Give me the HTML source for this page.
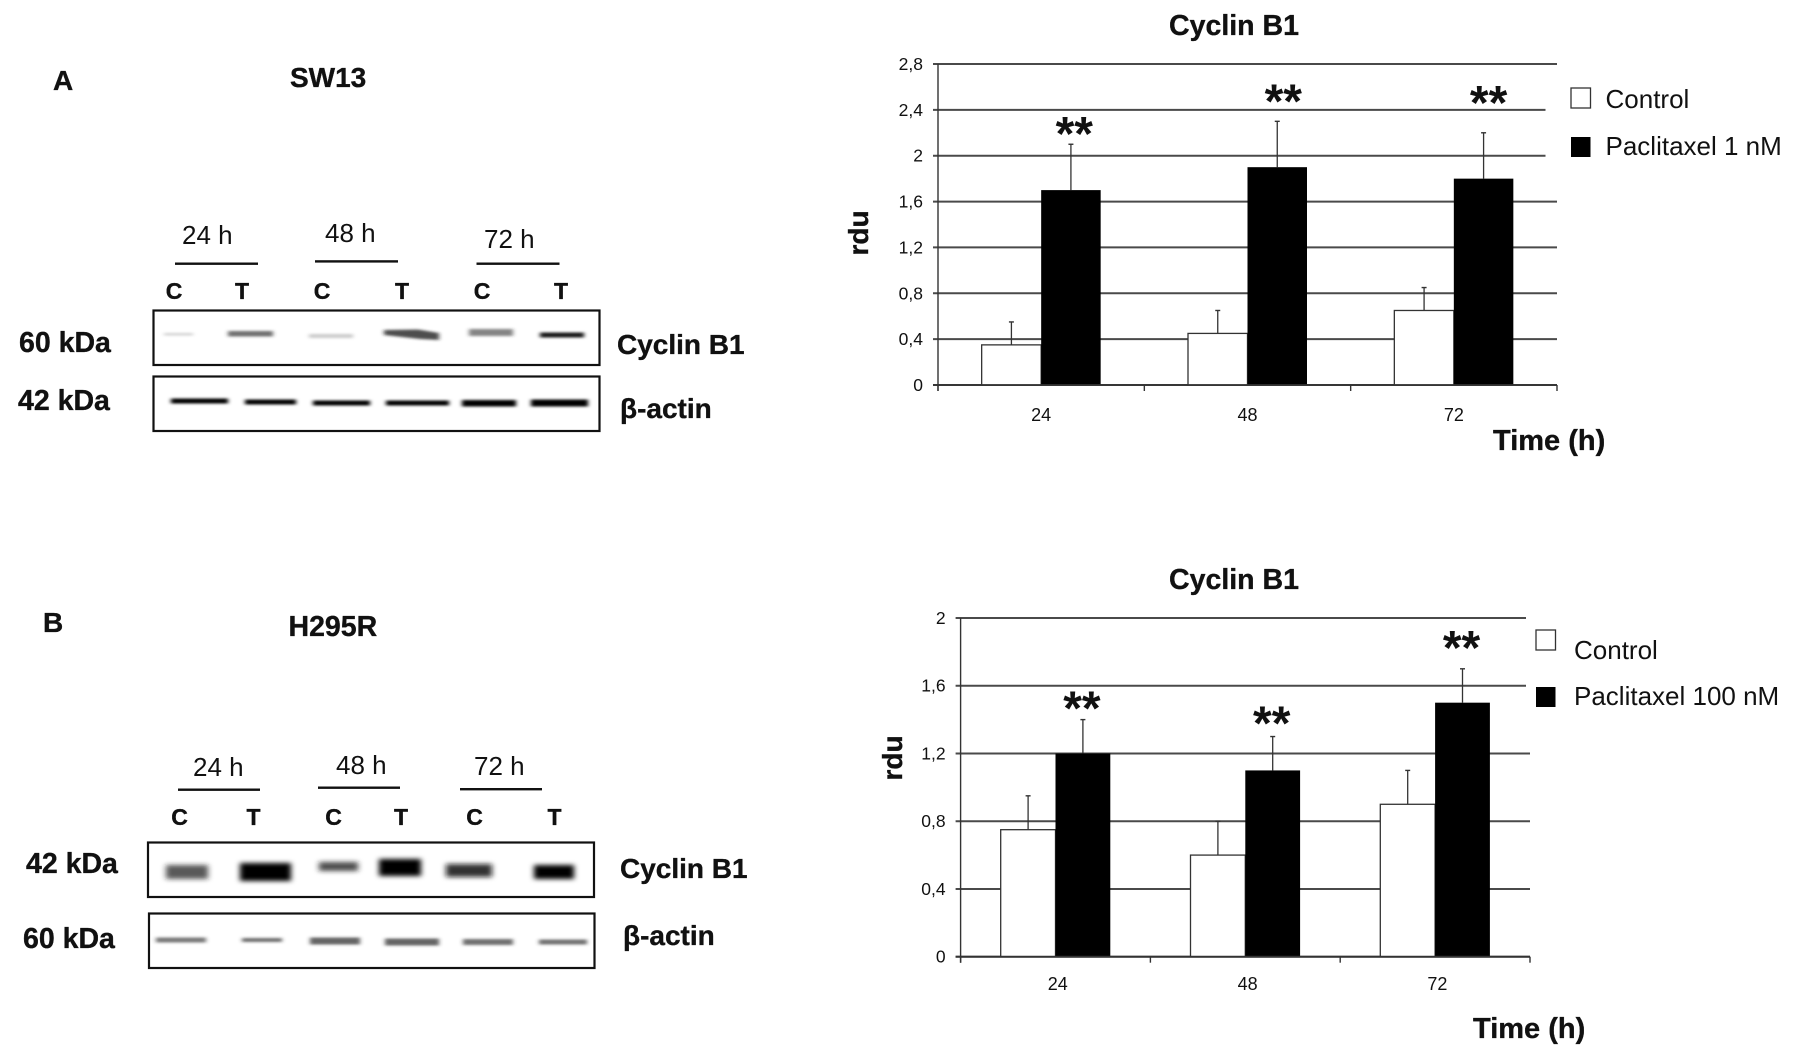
<!DOCTYPE html>
<html lang="en">
<head>
<meta charset="utf-8">
<title>Cyclin B1 western blots and densitometry</title>
<style>
html,body{margin:0;padding:0;background:#fff;}
#figure{display:block;width:1795px;height:1064px;background:#fff;filter:blur(0.35px);}
text{font-family:"Liberation Sans",sans-serif;fill:#111;}
.b{font-weight:bold;stroke:#111;stroke-width:.35px;}
</style>
</head>
<body>
<svg id="figure" xmlns="http://www.w3.org/2000/svg" width="1795" height="1064" viewBox="0 0 1795 1064">
<defs>
<filter id="bl1" x="-30%" y="-100%" width="160%" height="300%"><feGaussianBlur stdDeviation="2 1.2"/></filter>
<filter id="bl2" x="-30%" y="-100%" width="160%" height="300%"><feGaussianBlur stdDeviation="3 2.5"/></filter>
</defs>

<g>
<text class="b" x="53" y="90" font-size="28">A</text>
<text class="b" x="290" y="87" font-size="28">SW13</text>
<text x="182" y="244" font-size="26">24 h</text>
<text x="325" y="242" font-size="26">48 h</text>
<text x="484" y="248" font-size="26">72 h</text>
<rect x="175" y="262.5" width="83" height="2.4" fill="#111"/>
<rect x="315" y="260.2" width="83" height="2.4" fill="#111"/>
<rect x="476.5" y="262.5" width="83" height="2.4" fill="#111"/>
<g font-size="23" text-anchor="middle">
<text class="b" x="174" y="299">C</text><text class="b" x="242" y="299">T</text>
<text class="b" x="322" y="299">C</text><text class="b" x="402" y="299">T</text>
<text class="b" x="482" y="299">C</text><text class="b" x="561" y="299">T</text>
</g>
<rect x="153.5" y="310.5" width="446" height="54.5" fill="#fff" stroke="#111" stroke-width="2.2"/>
<rect x="153.5" y="376.5" width="446" height="54.5" fill="#fff" stroke="#111" stroke-width="2.2"/>
<g filter="url(#bl1)">
<rect x="164" y="333" width="29" height="2.5" fill="#000" opacity=".18"/>
<rect x="228" y="331" width="45" height="5.5" fill="#333" opacity=".7"/>
<rect x="309" y="334" width="44" height="4" fill="#000" opacity=".2"/>
<path d="M384 330 L418 329.5 L439 333 L439 340 L420 339 L384 335 Z" fill="#222" opacity=".8"/>
<rect x="469" y="329" width="44" height="7" fill="#333" opacity=".6"/>
<rect x="540" y="332.5" width="44" height="5" fill="#000" opacity=".9"/>
</g>
<g filter="url(#bl1)">
<rect x="171" y="398.5" width="57" height="5" fill="#000"/>
<rect x="245" y="399.5" width="51" height="5" fill="#000"/>
<rect x="313" y="400.5" width="57" height="5" fill="#000"/>
<rect x="386" y="400.5" width="63" height="5" fill="#000"/>
<rect x="462" y="400" width="54" height="6.5" fill="#000"/>
<rect x="531" y="399.5" width="57" height="7" fill="#000"/>
</g>
<text class="b" x="19" y="352" font-size="28.5">60 kDa</text>
<text class="b" x="18" y="410" font-size="28.5">42 kDa</text>
<text class="b" x="617" y="354" font-size="28">Cyclin B1</text>
<text class="b" x="620" y="418" font-size="28">β-actin</text>
</g>

<g>
<text class="b" x="43" y="632" font-size="28">B</text>
<text class="b" x="288.5" y="636" font-size="28.5">H295R</text>
<text x="193" y="776" font-size="26">24 h</text>
<text x="336" y="774" font-size="26">48 h</text>
<text x="474" y="775" font-size="26">72 h</text>
<rect x="178" y="788.5" width="82" height="2.4" fill="#111"/>
<rect x="318" y="786.5" width="82" height="2.4" fill="#111"/>
<rect x="460" y="788" width="82" height="2.4" fill="#111"/>
<g font-size="23" text-anchor="middle">
<text class="b" x="179.5" y="825">C</text><text class="b" x="253.5" y="825">T</text>
<text class="b" x="333.5" y="825">C</text><text class="b" x="401" y="825">T</text>
<text class="b" x="474.5" y="825">C</text><text class="b" x="554.5" y="825">T</text>
</g>
<rect x="148" y="842.5" width="446" height="54.5" fill="#fff" stroke="#111" stroke-width="2.2"/>
<rect x="149" y="913.5" width="445.5" height="54.5" fill="#fff" stroke="#111" stroke-width="2.2"/>
<g filter="url(#bl2)">
<rect x="166" y="865" width="42" height="14" fill="#222" opacity=".75"/>
<rect x="240" y="863" width="51" height="18" fill="#000"/>
<rect x="319" y="862" width="39" height="9" fill="#222" opacity=".8"/>
<rect x="379" y="859" width="42" height="17" fill="#000"/>
<rect x="446" y="864" width="46" height="13" fill="#111" opacity=".85"/>
<rect x="534" y="865" width="40" height="14" fill="#000"/>
</g>
<g filter="url(#bl1)">
<rect x="156" y="937.5" width="50" height="5" fill="#333" opacity=".65"/>
<rect x="242" y="938" width="40" height="4" fill="#333" opacity=".7"/>
<rect x="310" y="937.5" width="50" height="7" fill="#333" opacity=".75"/>
<rect x="385" y="938.5" width="54" height="7" fill="#333" opacity=".75"/>
<rect x="463" y="939" width="50" height="6" fill="#333" opacity=".7"/>
<rect x="539" y="939.5" width="48" height="5" fill="#333" opacity=".7"/>
</g>
<text class="b" x="26" y="873" font-size="28.5">42 kDa</text>
<text class="b" x="23" y="948" font-size="28.5">60 kDa</text>
<text class="b" x="620" y="878" font-size="28">Cyclin B1</text>
<text class="b" x="623" y="945" font-size="28">β-actin</text>
</g>

<g id="chart-a"></g>
<g id="chart-b"></g>
</svg>

<script>
// Chart A data
var categoriesA = ["24", "48", "72"];
var controlA = [0.35, 0.45, 0.65];
var controlErrA = [0.2, 0.2, 0.2];
var paclitaxelA = [1.7, 1.9, 1.8];
var paclitaxelErrA = [0.4, 0.4, 0.4];
var tickValuesA = [0, 0.4, 0.8, 1.2, 1.6, 2, 2.4, 2.8];
var tickLabelsA = ["0", "0,4", "0,8", "1,2", "1,6", "2", "2,4", "2,8"];
var legendLabelsA = ["Control", "Paclitaxel 1 nM"];

// Chart B data
var categoriesB = ["24", "48", "72"];
var controlB = [0.75, 0.6, 0.9];
var controlErrB = [0.2, 0.2, 0.2];
var paclitaxelB = [1.2, 1.1, 1.5];
var paclitaxelErrB = [0.2, 0.2, 0.2];
var tickValuesB = [0, 0.4, 0.8, 1.2, 1.6, 2];
var tickLabelsB = ["0", "0,4", "0,8", "1,2", "1,6", "2"];
var legendLabelsB = ["Control", "Paclitaxel 100 nM"];

var NS = "http://www.w3.org/2000/svg";

function mk(parent, tag, attrs, txt) {
  var el = document.createElementNS(NS, tag);
  for (var k in attrs) el.setAttribute(k, attrs[k]);
  if (txt !== undefined) el.textContent = txt;
  parent.appendChild(el);
  return el;
}

function drawChart(cfg) {
  var root = document.getElementById(cfg.id);
  var yMax = cfg.ticks[cfg.ticks.length - 1];
  function yScale(v) { return cfg.y0 + (cfg.yTop - cfg.y0) * v / yMax; }
  var catW = (cfg.x1 - cfg.x0) / cfg.categories.length;
  function xCenter(i) { return cfg.x0 + catW * (i + 0.5); }
  var el;

  // gridlines and y ticks
  cfg.ticks.forEach(function (t, i) {
    var y = yScale(t);
    var right = cfg.shortGrid.indexOf(t) >= 0 ? cfg.xShort : cfg.x1;
    el = mk(root, "line", {x1: cfg.x0 - 5, x2: right, y1: y, y2: y, stroke: "#4a4a4a", "stroke-width": 2});
    
    
    el = mk(root, "text", {x: cfg.x0 - 15, y: y + 6, "font-size": 17.5, "text-anchor": "end"}, cfg.tickLabels[i]);
    
    
  });

  // y axis
  el = mk(root, "line", {x1: cfg.x0, x2: cfg.x0, y1: cfg.yTop, y2: cfg.y0 + 6, stroke: "#333", "stroke-width": 1.4});
  
  

  // category ticks
  for (var c = 0; c <= cfg.categories.length; c++) {
    var tx = cfg.x0 + catW * c;
    el = mk(root, "line", {x1: tx, x2: tx, y1: cfg.y0, y2: cfg.y0 + 6, stroke: "#333", "stroke-width": 1.4});
    
    
  }

  // bars, error bars, labels
  cfg.categories.forEach(function (cat, i) {
    var xc = xCenter(i);
    var w = cfg.barW;

    // control error bar
    var cTop = yScale(cfg.control[i] + cfg.controlErr[i]);
    el = mk(root, "line", {x1: xc - w / 2, x2: xc - w / 2, y1: cTop, y2: yScale(cfg.control[i]), stroke: "#333", "stroke-width": 1.3});
    
    
    el = mk(root, "line", {x1: xc - w / 2 - 2.5, x2: xc - w / 2 + 2.5, y1: cTop, y2: cTop, stroke: "#333", "stroke-width": 1.4});
    
    

    // control bar
    el = mk(root, "rect", {x: xc - w, y: yScale(cfg.control[i]), width: w, height: cfg.y0 - yScale(cfg.control[i]), fill: "#fff", stroke: "#333", "stroke-width": 1.3});
    
    

    // treated error bar
    var pTop = yScale(cfg.paclitaxel[i] + cfg.paclitaxelErr[i]);
    el = mk(root, "line", {x1: xc + w / 2, x2: xc + w / 2, y1: pTop, y2: yScale(cfg.paclitaxel[i]), stroke: "#333", "stroke-width": 1.3});
    
    
    el = mk(root, "line", {x1: xc + w / 2 - 2.5, x2: xc + w / 2 + 2.5, y1: pTop, y2: pTop, stroke: "#333", "stroke-width": 1.4});
    
    

    // treated bar
    el = mk(root, "rect", {x: xc, y: yScale(cfg.paclitaxel[i]), width: w, height: cfg.y0 - yScale(cfg.paclitaxel[i]), fill: "#000"});
    
    

    // significance marker, sits a fixed offset above the error bar
    el = mk(root, "text", {x: xc + w / 2 + cfg.starDx[i], y: pTop - cfg.starGap[i], "font-size": 48, "font-weight": "bold", "text-anchor": "middle"}, "**");
    
    

    // category label
    el = mk(root, "text", {x: xc + cfg.xLabelDx, y: cfg.xLabelY, "font-size": 18, "text-anchor": "middle"}, cat);
    
    
  });

  // baseline on top of bars
  el = mk(root, "line", {x1: cfg.x0 - 5, x2: cfg.x1, y1: cfg.y0, y2: cfg.y0, stroke: "#333", "stroke-width": 1.8});
  
  

  // titles
  el = mk(root, "text", {x: cfg.titleX, y: cfg.titleY, "font-size": 28.5, "class": "b", "text-anchor": "middle"}, "Cyclin B1");
  
  
  el = mk(root, "text", {x: cfg.xTitleX, y: cfg.xTitleY, "font-size": 29, "class": "b"}, "Time (h)");
  
  
  el = mk(root, "text", {transform: "translate(" + cfg.yTitleX + "," + cfg.yTitleY + ") rotate(-90)", "font-size": 28, "class": "b", "text-anchor": "middle"}, "rdu");
  
  

  // legend
  el = mk(root, "rect", {x: cfg.legendBoxX, y: cfg.legendY1, width: 19.5, height: 20, fill: "#fff", stroke: "#333", "stroke-width": 1.3});
  
  
  el = mk(root, "text", {x: cfg.legendTextX, y: cfg.legendTextY1, "font-size": 26}, cfg.legend[0]);
  
  
  el = mk(root, "rect", {x: cfg.legendBoxX, y: cfg.legendY2, width: 19.5, height: 20, fill: "#000"});
  
  
  el = mk(root, "text", {x: cfg.legendTextX, y: cfg.legendTextY2, "font-size": 26}, cfg.legend[1]);
  
  
}

drawChart({
  id: "chart-a", categories: categoriesA, control: controlA, controlErr: controlErrA,
  paclitaxel: paclitaxelA, paclitaxelErr: paclitaxelErrA, ticks: tickValuesA, tickLabels: tickLabelsA,
  legend: legendLabelsA, x0: 938, x1: 1557, xShort: 1545.5, yTop: 64, y0: 385, barW: 59.5,
  shortGrid: [2, 2.4], starDx: [3.4, 6, 5], starGap: [-5.6, 4, 14], xLabelY: 421, xLabelDx: 0,
  titleX: 1234, titleY: 35, xTitleX: 1493, xTitleY: 450, yTitleX: 868, yTitleY: 233,
  legendBoxX: 1571, legendY1: 88, legendY2: 137, legendTextX: 1605.5, legendTextY1: 108, legendTextY2: 155
});

drawChart({
  id: "chart-b", categories: categoriesB, control: controlB, controlErr: controlErrB,
  paclitaxel: paclitaxelB, paclitaxelErr: paclitaxelErrB, ticks: tickValuesB, tickLabels: tickLabelsB,
  legend: legendLabelsB, x0: 960.6, x1: 1530, xShort: 1526, yTop: 618, y0: 956.7, barW: 54.8,
  shortGrid: [1.6, 2], starDx: [-1, -1, -1], starGap: [-5, -3, 5], xLabelY: 990, xLabelDx: 2.3,
  titleX: 1234, titleY: 589, xTitleX: 1473, xTitleY: 1038, yTitleX: 902, yTitleY: 758,
  legendBoxX: 1536, legendY1: 630, legendY2: 687, legendTextX: 1574, legendTextY1: 659, legendTextY2: 705
});
</script>
</body>
</html>
